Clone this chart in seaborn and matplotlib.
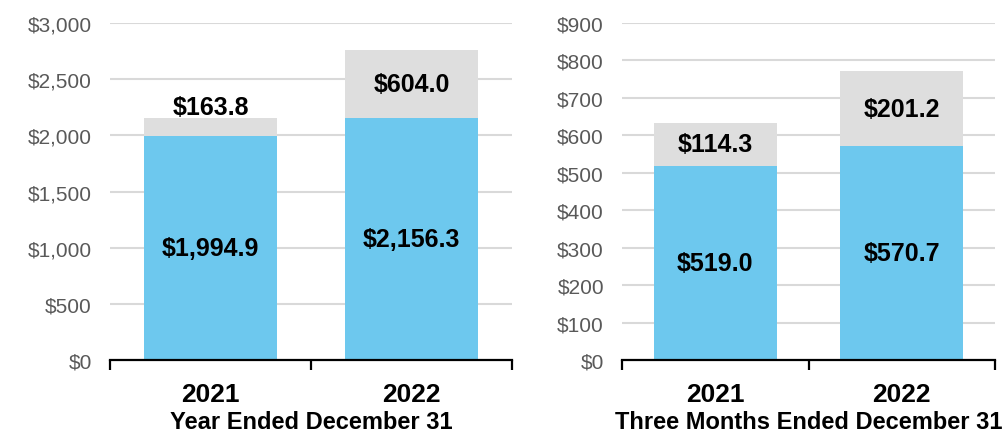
import matplotlib
matplotlib.use("Agg")
import matplotlib.pyplot as plt
import seaborn as sns
import numpy as np
import pandas as pd

# Data
years = ['2021', '2022']
annual_base = [1994.9, 2156.3]
annual_extra = [163.8, 604.0]
quarter_base = [519.0, 570.7]
quarter_extra = [114.3, 201.2]

annual_ticks = [0, 500, 1000, 1500, 2000, 2500, 3000]
quarter_ticks = [0, 100, 200, 300, 400, 500, 600, 700, 800, 900]

BLUE = '#6DC8EE'
GREY = '#DEDEDE'

sns.set_style('white')
plt.rcParams['font.family'] = ['Liberation Sans', 'DejaVu Sans']
plt.rcParams['text.color'] = 'black'
plt.rcParams['axes.labelcolor'] = 'black'
label_font = ['Liberation Sans Narrow', 'Liberation Sans', 'DejaVu Sans']


def money(v):
    return f'${v:,.1f}'


def draw_panel(ax, base, extra, yticks, xlabel, small_extra=None):
    df = pd.DataFrame({'Year': years, 'Base': base,
                       'Total': np.array(base) + np.array(extra)})
    sns.barplot(data=df, x='Year', y='Total', color=GREY, width=0.66,
                saturation=1, ax=ax, zorder=2)
    sns.barplot(data=df, x='Year', y='Base', color=BLUE, width=0.66,
                saturation=1, ax=ax, zorder=3)
    for p in ax.patches:
        p.set_edgecolor('none')

    top = yticks[-1]
    for i, (b, e) in enumerate(zip(base, extra)):
        ax.text(i, b / 2, money(b), ha='center', va='center', fontsize=18,
                fontweight='bold', family=label_font, color='black', zorder=5)
        if small_extra is not None and e / top < small_extra:
            ye = b + e + top * 0.03
        else:
            ye = b + e / 2
        ax.text(i, ye, money(e), ha='center', va='center', fontsize=18,
                fontweight='bold', family=label_font, color='black', zorder=5)

    ax.set_ylim(0, top)
    ax.set_xlim(-0.5, 1.5)
    ax.set_yticks(yticks)
    ax.set_yticklabels([f'${t:,}' for t in yticks])
    ax.yaxis.grid(True, color='#D9D9D9', linewidth=1.5, zorder=0)
    ax.set_axisbelow(True)
    for s in ['top', 'right', 'left']:
        ax.spines[s].set_visible(False)
    ax.spines['bottom'].set_color('black')
    ax.spines['bottom'].set_linewidth(1.6)
    ax.spines['bottom'].set_zorder(6)
    ax.tick_params(axis='y', length=0, pad=13, labelsize=15,
                   labelcolor='#595959')
    ax.tick_params(axis='x', which='major', length=0, pad=16,
                   labelsize=19, labelcolor='black')
    for t in ax.get_xticklabels():
        t.set_fontweight('bold')
    ax.set_xticks([-0.5, 0.5, 1.5], minor=True)
    ax.tick_params(axis='x', which='minor', bottom=True, direction='out',
                   length=7, width=1.6, color='black')
    ax.set_xlabel(xlabel, fontsize=17, fontweight='bold', labelpad=3)
    ax.set_ylabel('')


fig = plt.figure(figsize=(10.07, 4.35), dpi=100)
ax1 = fig.add_axes([0.1092, 0.1701, 0.3992, 0.7747])
ax2 = fig.add_axes([0.6177, 0.1701, 0.3704, 0.7747])

draw_panel(ax1, annual_base, annual_extra, annual_ticks,
           'Year Ended December 31', small_extra=0.1)
draw_panel(ax2, quarter_base, quarter_extra, quarter_ticks,
           'Three Months Ended December 31')

fig.savefig('out.png', dpi=100)
